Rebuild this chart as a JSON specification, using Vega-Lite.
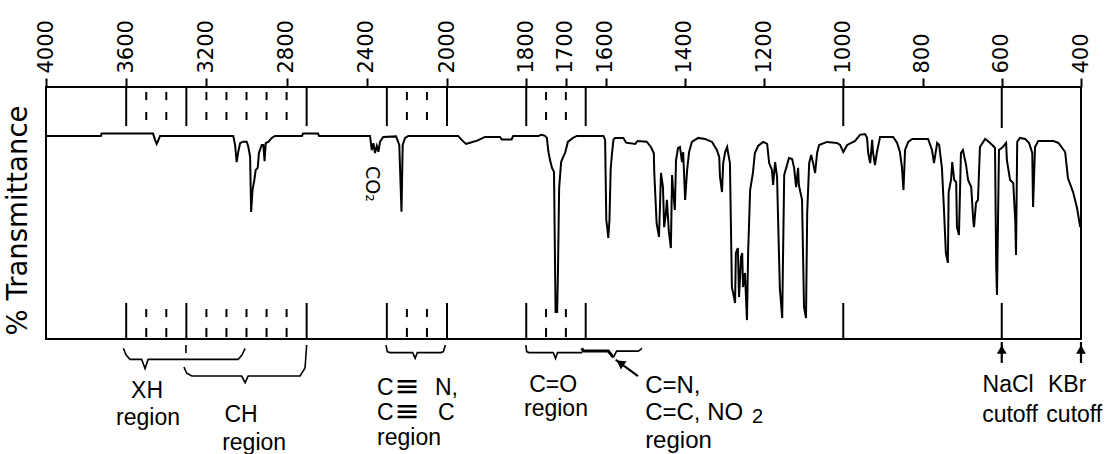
{
  "$schema": "https://vega.github.io/schema/vega-lite/v6.json",
  "width": 1035,
  "height": 252,
  "autosize": {"type": "none"},
  "padding": {"left": 46, "top": 87, "right": 24, "bottom": 115},
  "background": "white",
  "config": {"view": {"stroke": "black", "strokeWidth": 2}},
  "datasets": {
    "spec": [
      {"wn":4000,"t":80.6},{"wn":3726,"t":80.6},{"wn":3723,"t":81.5},{"wn":3466,"t":81.5},{"wn":3456,"t":79.0},{"wn":3448,"t":77.4},{"wn":3439,"t":79.0},{"wn":3431,"t":80.6},
      {"wn":3066,"t":80.6},{"wn":3057,"t":77.0},{"wn":3049,"t":70.2},{"wn":3041,"t":74.3},{"wn":3032,"t":77.7},{"wn":3016,"t":78.3},{"wn":2999,"t":78.3},{"wn":2991,"t":76.3},{"wn":2982,"t":72.3},{"wn":2977,"t":50.4},{"wn":2970,"t":59.1},{"wn":2961,"t":63.1},{"wn":2954,"t":67.1},{"wn":2944,"t":67.9},{"wn":2938,"t":73.8},{"wn":2924,"t":77.0},{"wn":2916,"t":77.0},{"wn":2910,"t":70.6},{"wn":2904,"t":77.8},{"wn":2891,"t":78.2},{"wn":2874,"t":79.8},{"wn":2858,"t":80.6},
      {"wn":2723,"t":80.6},{"wn":2718,"t":81.5},{"wn":2643,"t":81.5},{"wn":2638,"t":80.6},
      {"wn":2384,"t":80.6},{"wn":2375,"t":75.0},{"wn":2367,"t":77.7},{"wn":2359,"t":73.8},{"wn":2350,"t":76.6},{"wn":2342,"t":74.3},{"wn":2334,"t":78.3},{"wn":2318,"t":80.2},
      {"wn":2254,"t":80.4},{"wn":2238,"t":77.0},{"wn":2227,"t":50.5},{"wn":2221,"t":77.0},{"wn":2209,"t":79.8},{"wn":2193,"t":80.6},
      {"wn":1972,"t":80.6},{"wn":1963,"t":79.0},{"wn":1952,"t":77.4},{"wn":1942,"t":77.9},{"wn":1924,"t":78.7},{"wn":1904,"t":80.2},{"wn":1866,"t":80.2},{"wn":1862,"t":79.2},{"wn":1837,"t":79.2},{"wn":1833,"t":80.6},{"wn":1770,"t":80.6},{"wn":1761,"t":81.0},{"wn":1753,"t":80.6},
      {"wn":1748,"t":79.8},{"wn":1744,"t":74.2},{"wn":1740,"t":71.0},{"wn":1735,"t":67.9},{"wn":1730,"t":66.3},{"wn":1726,"t":10.7},{"wn":1722,"t":10.7},{"wn":1720,"t":26.6},{"wn":1717,"t":59.9},{"wn":1712,"t":70.2},{"wn":1707,"t":72.2},{"wn":1702,"t":73.8},{"wn":1695,"t":78.2},{"wn":1682,"t":79.8},{"wn":1672,"t":80.6},
      {"wn":1605,"t":80.6},{"wn":1601,"t":79.0},{"wn":1598,"t":47.2},{"wn":1595,"t":43.3},{"wn":1593,"t":40.1},{"wn":1590,"t":47.2},{"wn":1587,"t":67.1},{"wn":1584,"t":73.0},{"wn":1580,"t":79.0},{"wn":1576,"t":79.8},{"wn":1555,"t":79.8},{"wn":1548,"t":77.9},{"wn":1525,"t":77.4},{"wn":1519,"t":78.6},{"wn":1496,"t":78.3},{"wn":1485,"t":76.1},{"wn":1478,"t":73.7},
      {"wn":1477,"t":66.4},{"wn":1471,"t":46.0},{"wn":1465,"t":40.5},{"wn":1462,"t":55.2},{"wn":1460,"t":65.9},{"wn":1455,"t":60.3},{"wn":1452,"t":44.4},{"wn":1448,"t":49.2},{"wn":1445,"t":55.2},{"wn":1440,"t":42.5},{"wn":1435,"t":36.1},{"wn":1432,"t":65.1},{"wn":1430,"t":60.3},{"wn":1425,"t":51.2},{"wn":1422,"t":71.0},{"wn":1417,"t":75.8},{"wn":1412,"t":76.2},{"wn":1407,"t":70.2},{"wn":1404,"t":74.2},{"wn":1399,"t":55.2},{"wn":1394,"t":67.1},{"wn":1389,"t":74.2},{"wn":1382,"t":78.2},{"wn":1366,"t":79.8},{"wn":1349,"t":79.4},{"wn":1331,"t":78.2},{"wn":1319,"t":75.0},{"wn":1313,"t":72.2},{"wn":1311,"t":64.3},{"wn":1306,"t":58.3},{"wn":1303,"t":69.8},{"wn":1298,"t":74.2},{"wn":1293,"t":76.2},{"wn":1291,"t":74.2},{"wn":1286,"t":69.8},{"wn":1281,"t":20.6},{"wn":1278,"t":18.3},{"wn":1273,"t":14.3},{"wn":1271,"t":34.1},{"wn":1266,"t":36.1},{"wn":1263,"t":16.7},{"wn":1258,"t":32.5},{"wn":1255,"t":34.1},{"wn":1253,"t":20.6},{"wn":1248,"t":26.2},{"wn":1243,"t":7.5},{"wn":1240,"t":34.5},{"wn":1235,"t":59.1},{"wn":1228,"t":65.9},{"wn":1223,"t":73.8},{"wn":1215,"t":76.6},{"wn":1202,"t":78.2},{"wn":1192,"t":77.4},{"wn":1187,"t":69.8},{"wn":1180,"t":67.1},{"wn":1177,"t":61.1},{"wn":1172,"t":70.2},{"wn":1167,"t":64.3},{"wn":1165,"t":51.2},{"wn":1160,"t":20.2},{"wn":1154,"t":8.3},{"wn":1152,"t":32.5},{"wn":1149,"t":65.1},{"wn":1142,"t":69.0},{"wn":1137,"t":71.8},{"wn":1129,"t":71.4},{"wn":1124,"t":67.9},{"wn":1119,"t":60.3},{"wn":1114,"t":67.9},{"wn":1112,"t":61.1},{"wn":1104,"t":55.2},{"wn":1099,"t":12.7},{"wn":1094,"t":8.3},{"wn":1091,"t":50.0},{"wn":1086,"t":69.8},{"wn":1081,"t":73.0},{"wn":1076,"t":69.8},{"wn":1071,"t":65.9},{"wn":1066,"t":73.8},{"wn":1061,"t":77.0},{"wn":1041,"t":78.2},{"wn":1016,"t":77.8},{"wn":1008,"t":77.0},{"wn":1000,"t":74.2},{"wn":990,"t":77.0},{"wn":970,"t":78.6},{"wn":958,"t":81.0},{"wn":945,"t":81.3},{"wn":940,"t":79.8},{"wn":937,"t":73.8},{"wn":932,"t":69.8},{"wn":927,"t":79.0},{"wn":925,"t":74.2},{"wn":920,"t":69.0},{"wn":915,"t":74.2},{"wn":907,"t":80.2},{"wn":874,"t":80.2},{"wn":864,"t":77.8},{"wn":857,"t":74.2},{"wn":852,"t":68.3},{"wn":848,"t":59.1},{"wn":844,"t":75.0},{"wn":836,"t":78.2},{"wn":826,"t":79.4},{"wn":786,"t":79.4},{"wn":776,"t":75.0},{"wn":771,"t":69.8},{"wn":763,"t":77.8},{"wn":758,"t":77.0},{"wn":751,"t":67.9},{"wn":746,"t":52.0},{"wn":741,"t":34.1},{"wn":736,"t":30.2},{"wn":734,"t":58.3},{"wn":728,"t":63.1},{"wn":725,"t":70.2},{"wn":720,"t":63.1},{"wn":715,"t":62.3},{"wn":713,"t":44.4},{"wn":708,"t":41.3},{"wn":703,"t":73.8},{"wn":698,"t":75.0},{"wn":690,"t":69.0},{"wn":685,"t":63.1},{"wn":677,"t":60.3},{"wn":672,"t":47.2},{"wn":670,"t":44.4},{"wn":665,"t":54.0},{"wn":660,"t":55.2},{"wn":655,"t":76.2},{"wn":642,"t":79.4},{"wn":635,"t":78.6},{"wn":624,"t":77.0},{"wn":617,"t":75.8},{"wn":614,"t":28.6},{"wn":612,"t":17.5},{"wn":607,"t":75.0},{"wn":597,"t":76.2},{"wn":589,"t":77.8},{"wn":587,"t":71.0},{"wn":579,"t":63.1},{"wn":571,"t":61.9},{"wn":566,"t":47.2},{"wn":564,"t":33.3},{"wn":561,"t":78.2},{"wn":554,"t":79.8},{"wn":541,"t":79.4},{"wn":531,"t":77.8},{"wn":523,"t":73.8},{"wn":521,"t":52.4},{"wn":516,"t":76.2},{"wn":508,"t":78.6},{"wn":470,"t":78.6},{"wn":457,"t":77.8},{"wn":440,"t":74.2},{"wn":433,"t":63.9},{"wn":420,"t":58.3},{"wn":410,"t":52.0},{"wn":402,"t":44.4}
    ],
    "guides": [
      {"wn":3600,"t":84.5,"t2":100},{"wn":3300,"t":84.5,"t2":100},{"wn":2700,"t":84.5,"t2":100},{"wn":2300,"t":84.5,"t2":100},{"wn":2000,"t":84.5,"t2":100},{"wn":1800,"t":84.5,"t2":100},{"wn":1650,"t":84.5,"t2":100},{"wn":1000,"t":84.5,"t2":100},{"wn":600,"t":83.7,"t2":100},
      {"wn":3600,"t":0,"t2":14.3},{"wn":3300,"t":0,"t2":14.3},{"wn":2700,"t":0,"t2":14.3},{"wn":2300,"t":0,"t2":14.3},{"wn":2000,"t":0,"t2":14.3},{"wn":1800,"t":0,"t2":14.3},{"wn":1650,"t":0,"t2":14.3},{"wn":1000,"t":0,"t2":14.3},{"wn":600,"t":0,"t2":14.3},
      {"wn":3500,"t":94.8,"t2":98.0},{"wn":3400,"t":94.8,"t2":98.0},{"wn":3200,"t":94.8,"t2":98.0},{"wn":3100,"t":94.8,"t2":98.0},{"wn":3000,"t":94.8,"t2":98.0},{"wn":2900,"t":94.8,"t2":98.0},{"wn":2800,"t":94.8,"t2":98.0},{"wn":2200,"t":94.8,"t2":98.0},{"wn":2100,"t":94.8,"t2":98.0},{"wn":1750,"t":94.8,"t2":98.0},{"wn":1700,"t":94.8,"t2":98.0},
      {"wn":3500,"t":86.9,"t2":90.1},{"wn":3400,"t":86.9,"t2":90.1},{"wn":3200,"t":86.9,"t2":90.1},{"wn":3100,"t":86.9,"t2":90.1},{"wn":3000,"t":86.9,"t2":90.1},{"wn":2900,"t":86.9,"t2":90.1},{"wn":2800,"t":86.9,"t2":90.1},{"wn":2200,"t":86.9,"t2":90.1},{"wn":2100,"t":86.9,"t2":90.1},{"wn":1750,"t":86.9,"t2":90.1},{"wn":1700,"t":86.9,"t2":90.1},
      {"wn":3500,"t":8.7,"t2":11.9},{"wn":3400,"t":8.7,"t2":11.9},{"wn":3200,"t":8.7,"t2":11.9},{"wn":3100,"t":8.7,"t2":11.9},{"wn":3000,"t":8.7,"t2":11.9},{"wn":2900,"t":8.7,"t2":11.9},{"wn":2800,"t":8.7,"t2":11.9},{"wn":2200,"t":8.7,"t2":11.9},{"wn":2100,"t":8.7,"t2":11.9},{"wn":1750,"t":8.7,"t2":11.9},{"wn":1700,"t":8.7,"t2":11.9},
      {"wn":3500,"t":0.8,"t2":4.4},{"wn":3400,"t":0.8,"t2":4.4},{"wn":3200,"t":0.8,"t2":4.4},{"wn":3100,"t":0.8,"t2":4.4},{"wn":3000,"t":0.8,"t2":4.4},{"wn":2900,"t":0.8,"t2":4.4},{"wn":2800,"t":0.8,"t2":4.4},{"wn":2200,"t":0.8,"t2":4.4},{"wn":2100,"t":0.8,"t2":4.4},{"wn":1750,"t":0.8,"t2":4.4},{"wn":1700,"t":0.8,"t2":4.4}
    ],
    "braces": [
      {"g":"xh","i":0,"wn":3614,"t":-3.7},{"g":"xh","i":1,"wn":3601,"t":-6.3},{"g":"xh","i":2,"wn":3581,"t":-8.1},{"g":"xh","i":3,"wn":3523,"t":-8.1},{"g":"xh","i":4,"wn":3506,"t":-11.7},{"g":"xh","i":5,"wn":3491,"t":-8.1},{"g":"xh","i":6,"wn":3042,"t":-8.1},{"g":"xh","i":7,"wn":3022,"t":-6.3},{"g":"xh","i":8,"wn":3007,"t":-3.7},
      {"g":"ch","i":0,"wn":3312,"t":-11.1},{"g":"ch","i":1,"wn":3298,"t":-13.6},{"g":"ch","i":2,"wn":3273,"t":-14.7},{"g":"ch","i":3,"wn":3024,"t":-14.7},{"g":"ch","i":4,"wn":3007,"t":-17.3},{"g":"ch","i":5,"wn":2992,"t":-14.7},{"g":"ch","i":6,"wn":2733,"t":-14.7},{"g":"ch","i":7,"wn":2708,"t":-11.5},{"g":"ch","i":8,"wn":2700,"t":-2.4},
      {"g":"chd","i":0,"wn":3302,"t":-2.4},{"g":"chd","i":1,"wn":3302,"t":-5.6},
      {"g":"cn3","i":0,"wn":2304,"t":-2.4},{"g":"cn3","i":1,"wn":2298,"t":-5.0},{"g":"cn3","i":2,"wn":2284,"t":-5.4},{"g":"cn3","i":3,"wn":2171,"t":-5.4},{"g":"cn3","i":4,"wn":2159,"t":-7.7},{"g":"cn3","i":5,"wn":2148,"t":-5.4},{"g":"cn3","i":6,"wn":2030,"t":-5.4},{"g":"cn3","i":7,"wn":2018,"t":-5.0},{"g":"cn3","i":8,"wn":2008,"t":-2.4},
      {"g":"co","i":0,"wn":1801,"t":-2.4},{"g":"co","i":1,"wn":1799,"t":-5.0},{"g":"co","i":2,"wn":1793,"t":-5.4},{"g":"co","i":3,"wn":1732,"t":-5.4},{"g":"co","i":4,"wn":1726,"t":-7.7},{"g":"co","i":5,"wn":1721,"t":-5.4},{"g":"co","i":6,"wn":1659,"t":-5.4},
      {"g":"cnt","i":0,"wn":1580,"t":-7.3},{"g":"cnt","i":1,"wn":1572,"t":-4.8},{"g":"cnt","i":2,"wn":1517,"t":-4.8},{"g":"cnt","i":3,"wn":1508,"t":-3.7}
    ],
    "bold": [
      {"g":"cnb","i":0,"wn":1660,"t":-3.7},{"g":"cnb","i":1,"wn":1656,"t":-4.8},{"g":"cnb","i":2,"wn":1593,"t":-4.8},{"g":"cnb","i":3,"wn":1580,"t":-7.3}
    ],
    "stems": [
      {"wn":1518,"t":-14.7,"wn2":1574,"t2":-8.3},
      {"wn":600,"t":-9.5,"wn2":600,"t2":-1.2},
      {"wn":400,"t":-9.5,"wn2":400,"t2":-1.2}
    ],
    "heads_up": [{"wn":600,"t":-4.2},{"wn":400,"t":-4.2}],
    "heads_cn": [{"wn":1563,"t":-9.5}],
    "labels_c": [
      {"wn":3496,"t":-23.4,"label":"XH"},
      {"wn":3491,"t":-34.1,"label":"region"},
      {"wn":3027,"t":-32.9,"label":"CH"},
      {"wn":2962,"t":-44.0,"label":"region"},
      {"wn":1732,"t":-21.0,"label":"C=O"},
      {"wn":1725,"t":-30.6,"label":"region"},
      {"wn":584,"t":-21.0,"label":"NaCl"},
      {"wn":579,"t":-32.9,"label":"cutoff"},
      {"wn":435,"t":-21.0,"label":"KBr"},
      {"wn":417,"t":-32.9,"label":"cutoff"}
    ],
    "labels_l": [
      {"wn":2349,"t":-22.2,"label":"C"},
      {"wn":2060,"t":-22.2,"label":"N,"},
      {"wn":2349,"t":-32.1,"label":"C"},
      {"wn":2045,"t":-32.1,"label":"C"},
      {"wn":2349,"t":-42.0,"label":"region"}
    ],
    "triple": [
      {"wn":2262,"t":-22.6,"label":"≡"},
      {"wn":2262,"t":-32.7,"label":"≡"}
    ],
    "labels_cn": [
      {"wn":1500,"t":-21.4,"label":"C=N,"},
      {"wn":1500,"t":-32.1,"label":"C=C, NO"},
      {"wn":1500,"t":-43.3,"label":"region"}
    ],
    "sub": [{"wn":1230,"t":-33.3,"label":"2"}],
    "co2": [{"wn":2374,"t":61.5,"label":"CO₂"}]
  },
  "encoding": {
    "x": {
      "field": "wn", "type": "quantitative",
      "scale": {"domain": [4000, 2000, 400], "range": [0, 401, 1035], "nice": false, "zero": false},
      "axis": {
        "orient": "top", "title": null, "grid": false, "domain": false,
        "values": [4000, 3600, 3200, 2800, 2400, 2000, 1800, 1700, 1600, 1400, 1200, 1000, 800, 600, 400],
        "format": "d", "labelAngle": 270, "labelAlign": "left", "labelBaseline": "middle",
        "labelFont": "DejaVu Sans", "labelFontSize": 21, "labelColor": "black",
        "labelPadding": 5, "labelOverlap": false, "labelFlush": false,
        "ticks": true, "tickSize": 9, "tickWidth": 2, "tickColor": "black"
      }
    },
    "y": {
      "field": "t", "type": "quantitative",
      "scale": {"domain": [0, 100], "nice": false, "zero": false},
      "axis": {
        "title": "% Transmittance", "labels": false, "ticks": false, "domain": false, "grid": false,
        "titleFont": "DejaVu Sans", "titleFontSize": 27.5, "titleFontWeight": "normal", "titleColor": "black",
        "titlePadding": 14, "titleY": 133
      }
    }
  },
  "layer": [
    {"data": {"name": "guides"}, "mark": {"type": "rule", "color": "black", "strokeWidth": 2},
     "encoding": {"y2": {"field": "t2"}}},
    {"data": {"name": "spec"}, "mark": {"type": "line", "color": "black", "strokeWidth": 2},
     "encoding": {}},
    {"data": {"name": "braces"}, "mark": {"type": "line", "color": "black", "strokeWidth": 1.6},
     "encoding": {"detail": {"field": "g"}, "order": {"field": "i", "type": "quantitative"}}},
    {"data": {"name": "bold"}, "mark": {"type": "line", "color": "black", "strokeWidth": 3},
     "encoding": {"detail": {"field": "g"}, "order": {"field": "i", "type": "quantitative"}}},
    {"data": {"name": "stems"}, "mark": {"type": "rule", "color": "black", "strokeWidth": 2.2},
     "encoding": {"x2": {"field": "wn2"}, "y2": {"field": "t2"}}},
    {"data": {"name": "heads_up"}, "mark": {"type": "point", "shape": "triangle-up", "filled": true, "color": "black", "opacity": 1, "size": 95},
     "encoding": {}},
    {"data": {"name": "heads_cn"}, "mark": {"type": "point", "shape": "triangle-up", "filled": true, "color": "black", "opacity": 1, "size": 100, "angle": -55},
     "encoding": {}},
    {"data": {"name": "labels_c"}, "mark": {"type": "text", "font": "Liberation Sans", "fontSize": 23, "color": "black", "align": "center", "baseline": "alphabetic"},
     "encoding": {"text": {"field": "label"}}},
    {"data": {"name": "labels_l"}, "mark": {"type": "text", "font": "Liberation Sans", "fontSize": 23, "color": "black", "align": "left", "baseline": "alphabetic"},
     "encoding": {"text": {"field": "label"}}},
    {"data": {"name": "triple"}, "mark": {"type": "text", "font": "DejaVu Sans", "fontSize": 30, "color": "black", "align": "left", "baseline": "alphabetic"},
     "encoding": {"text": {"field": "label"}}},
    {"data": {"name": "labels_cn"}, "mark": {"type": "text", "font": "Liberation Sans", "fontSize": 24, "color": "black", "align": "left", "baseline": "alphabetic"},
     "encoding": {"text": {"field": "label"}}},
    {"data": {"name": "sub"}, "mark": {"type": "text", "font": "Liberation Sans", "fontSize": 20, "color": "black", "align": "left", "baseline": "alphabetic"},
     "encoding": {"text": {"field": "label"}}},
    {"data": {"name": "co2"}, "mark": {"type": "text", "font": "DejaVu Sans", "fontSize": 19, "color": "black", "align": "center", "baseline": "middle", "angle": 90},
     "encoding": {"text": {"field": "label"}}}
  ]
}
